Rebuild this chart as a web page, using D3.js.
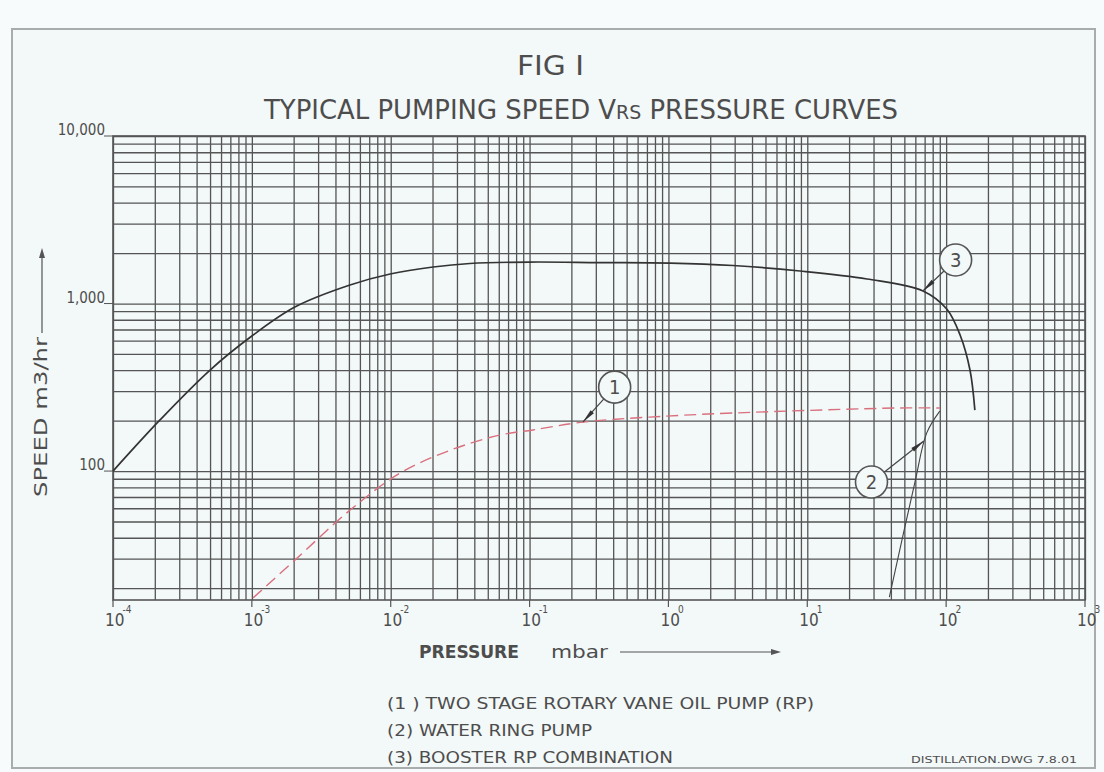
<!DOCTYPE html>
<html>
<head>
<meta charset="utf-8">
<script src="https://cdn.jsdelivr.net/npm/d3@7"></script>
<style>
  html, body { margin: 0; padding: 0; background: #f6fafa; }
  svg { display: block; }
  text { font-family: "DejaVu Sans Condensed", "Liberation Sans Narrow", "DejaVu Sans", sans-serif; fill: #4d4d4d; }
</style>
</head>
<body>
<svg id="chart" width="1104" height="772"></svg>
<script>
// ---- data ----
const boosterPressure = [1e-4, 2.18e-4, 5.0e-4, 1e-3, 2.04e-3, 5.09e-3, 0.0099, 0.0202, 0.0372, 0.1, 0.32, 1.03, 2.92, 8.86, 26.9, 68.1, 101, 126, 148.5, 161];
const boosterSpeed    = [100, 202, 401, 640, 953, 1290, 1500, 1652, 1734, 1769, 1757, 1745, 1687, 1564, 1401, 1188, 927, 649, 401, 231];

const rotaryPressure = [1.02e-3, 2.04e-3, 5.1e-3, 0.0116, 0.0267, 0.061, 0.106, 0.242, 0.73, 2.9, 46, 90];
const rotarySpeed    = [17.5, 29.4, 58.5, 97, 133, 164, 176, 196, 210, 222, 238, 238];

const waterPressure = [39, 59.4, 72.5, 90];
const waterSpeed    = [17.7, 84.8, 169, 228];

const xTickExponents = [-4, -3, -2, -1, 0, 1, 2, 3];
const xTickLabels    = ["-4", "-3", "-2", "-1", "0", "1", "2", "3"];
const yTickValues    = [100, 1000, 10000];
const yTickLabels    = ["100", "1,000", "10,000"];

const annoLabels   = ["1", "2", "3"];
const annoCenterP  = [0.41, 29, 117];
const annoCenterS  = [317, 86, 1820];
const annoTargetP  = [0.242, 69, 68];
const annoTargetS  = [196, 151, 1188];

const legendLines = ["(1 ) TWO STAGE ROTARY VANE OIL PUMP (RP)", "(2) WATER RING PUMP", "(3) BOOSTER RP COMBINATION"];

// ---- layout ----
const svg = d3.select("#chart");
const pL = 113, pR = 1085, pT = 136, pB = 600;
const x = d3.scaleLog().domain([1e-4, 1e3]).range([pL, pR]);
const y = d3.scaleLog().domain([17, 1e4]).range([pB, pT]);
const bg = "#f3f8f8";

svg.append("rect").attr("x", 0).attr("y", 0).attr("width", 1104).attr("height", 772).attr("fill", "#f8fbfb");
svg.append("rect").attr("x", 12).attr("y", 29).attr("width", 1083).attr("height", 739)
  .attr("fill", bg).attr("stroke", "#a8acac").attr("stroke-width", 2);

// titles
svg.append("text").attr("x", 517).attr("y", 75).attr("font-size", 27)
  .attr("textLength", 67).attr("lengthAdjust", "spacingAndGlyphs").text("FIG I");
const t = svg.append("text").attr("x", 264).attr("y", 119).attr("font-size", 26)
  .attr("textLength", 634).attr("lengthAdjust", "spacingAndGlyphs");
t.append("tspan").text("TYPICAL PUMPING SPEED V");
t.append("tspan").attr("font-size", 19).text("RS");
t.append("tspan").text(" PRESSURE CURVES");

// grid via axes
const gridColor = "#555";
const gx = svg.append("g").attr("transform", `translate(0,${pB})`)
  .call(d3.axisBottom(x).tickValues(x.ticks()).tickSize(-(pB - pT)).tickFormat(""));
const gy = svg.append("g").attr("transform", `translate(${pL},0)`)
  .call(d3.axisLeft(y).tickValues(y.ticks().filter(v => v >= 20)).tickSize(-(pR - pL)).tickFormat(""));
[gx, gy].forEach(g => {
  g.select(".domain").remove();
  g.selectAll(".tick line").attr("stroke", gridColor).attr("stroke-width", 1.3);
});
svg.append("rect").attr("x", pL).attr("y", pT).attr("width", pR - pL).attr("height", pB - pT)
  .attr("fill", "none").attr("stroke", gridColor).attr("stroke-width", 1.6);

// x decade stubs + labels
const xt = svg.append("g");
xTickExponents.forEach((e, i) => {
  const px = x(Math.pow(10, e));
  xt.append("line").attr("x1", px).attr("x2", px).attr("y1", pB).attr("y2", pB + 7)
    .attr("stroke", gridColor).attr("stroke-width", 1.2);
  const lab = xt.append("text").attr("x", px - 8).attr("y", 626).attr("font-size", 17);
  lab.append("tspan").text("10");
  lab.append("tspan").attr("dx", -2).attr("dy", -13).attr("font-size", 10).text(xTickLabels[i]);
});

// y labels
yTickValues.forEach((v, i) => {
  const py = y(v);
  svg.append("text").attr("x", 105).attr("y", py - 1).attr("font-size", 15).attr("text-anchor", "end")
    .attr("fill", "#5f5f5f").text(yTickLabels[i]);
  svg.append("line").attr("x1", 104).attr("x2", pL).attr("y1", py).attr("y2", py)
    .attr("stroke", gridColor).attr("stroke-width", 1);
});

// axis titles
svg.append("text").attr("transform", "translate(47,497) rotate(-90)").attr("font-size", 18)
  .attr("textLength", 160).attr("lengthAdjust", "spacingAndGlyphs").text("SPEED  m3/hr");
svg.append("line").attr("x1", 42).attr("x2", 42).attr("y1", 333).attr("y2", 256).attr("stroke", "#555").attr("stroke-width", 1.2);
svg.append("path").attr("d", "M42,248 L39,258 L45,258 Z").attr("fill", "#555");

svg.append("text").attr("x", 419).attr("y", 658).attr("font-size", 17).attr("font-weight", "bold")
  .attr("textLength", 100).attr("lengthAdjust", "spacingAndGlyphs").text("PRESSURE");
svg.append("text").attr("x", 551).attr("y", 658).attr("font-size", 17)
  .attr("textLength", 57).attr("lengthAdjust", "spacingAndGlyphs").text("mbar");
svg.append("line").attr("x1", 620).attr("x2", 772).attr("y1", 652).attr("y2", 652).attr("stroke", "#555").attr("stroke-width", 1.2);
svg.append("path").attr("d", "M781,652 L771,649 L771,655 Z").attr("fill", "#555");

// legend
const legendLen = [427, 205, 286];
const legendY = [709, 736, 763];
legendLines.forEach((s, i) => {
  svg.append("text").attr("x", 387).attr("y", legendY[i]).attr("font-size", 16)
    .attr("textLength", legendLen[i]).attr("lengthAdjust", "spacingAndGlyphs").text(s);
});
svg.append("text").attr("x", 911).attr("y", 763).attr("font-size", 9)
  .attr("textLength", 166).attr("lengthAdjust", "spacingAndGlyphs").text("DISTILLATION.DWG 7.8.01");

// curves
const line = d3.line().x(d => x(d[0])).y(d => y(d[1])).curve(d3.curveCatmullRom.alpha(0.5));
svg.append("path").datum(d3.zip(rotaryPressure, rotarySpeed)).attr("d", line)
  .attr("fill", "none").attr("stroke", "#d9707e").attr("stroke-width", 1.4).attr("stroke-dasharray", "12,6");
svg.append("path").datum(d3.zip(waterPressure, waterSpeed)).attr("d", line)
  .attr("fill", "none").attr("stroke", "#444").attr("stroke-width", 1.1);
svg.append("path").datum(d3.zip(boosterPressure, boosterSpeed)).attr("d", line)
  .attr("fill", "none").attr("stroke", "#333").attr("stroke-width", 1.7);

// annotations
annoLabels.forEach((lab, i) => {
  const cx = x(annoCenterP[i]), cy = y(annoCenterS[i]);
  const tx = x(annoTargetP[i]), ty = y(annoTargetS[i]);
  const r = 16;
  const dx = tx - cx, dy = ty - cy, L = Math.hypot(dx, dy);
  const ux = dx / L, uy = dy / L;
  svg.append("line").attr("x1", cx + ux * r).attr("y1", cy + uy * r).attr("x2", tx).attr("y2", ty)
    .attr("stroke", "#444").attr("stroke-width", 1.2);
  const bx = tx - ux * 14, by = ty - uy * 14;
  svg.append("path").attr("d", `M${tx},${ty} L${bx - uy * 2.2},${by + ux * 2.2} L${bx + uy * 2.2},${by - ux * 2.2} Z`)
    .attr("fill", "#333");
  svg.append("circle").attr("cx", cx).attr("cy", cy).attr("r", r)
    .attr("fill", bg).attr("stroke", "#555").attr("stroke-width", 1.6);
  svg.append("text").attr("x", cx).attr("y", cy + 7).attr("font-size", 20).attr("text-anchor", "middle").text(lab);
});
</script>
</body>
</html>
